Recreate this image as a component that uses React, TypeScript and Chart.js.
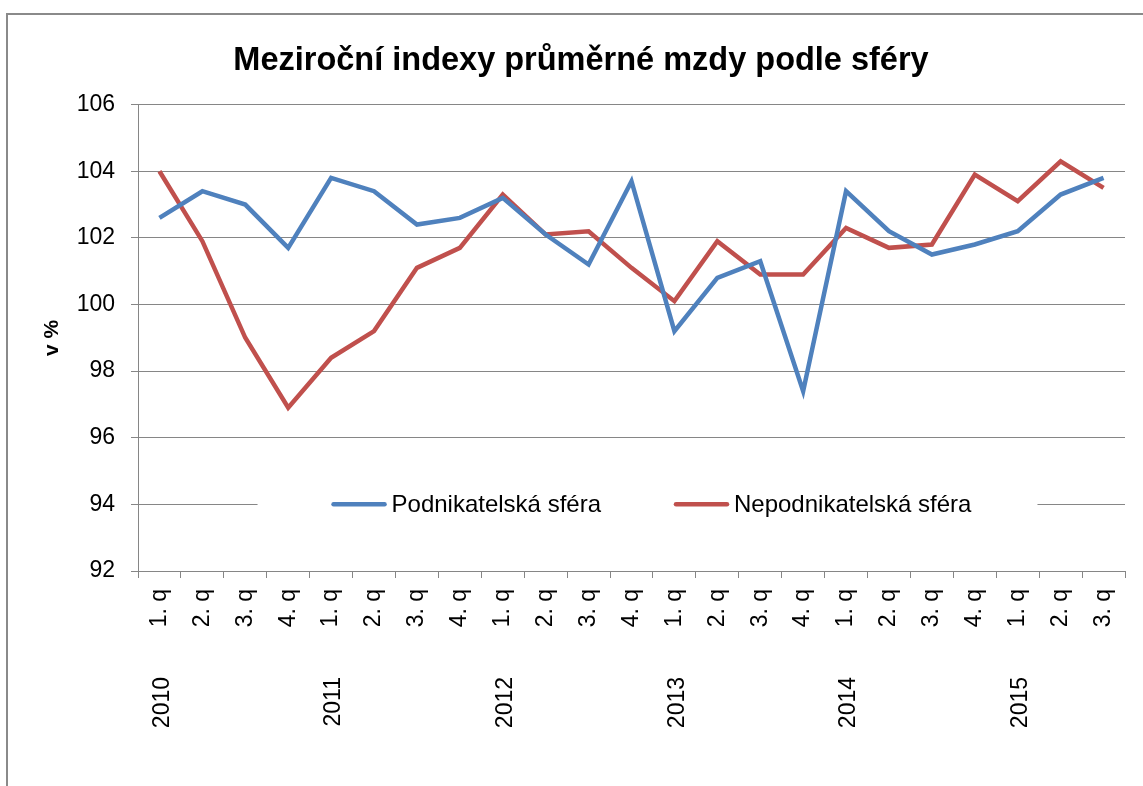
import React, { useEffect, useRef } from 'react';
import { Chart, registerables } from 'chart.js';

Chart.register(...registerables);

const titleText = 'Meziroční indexy průměrné mzdy podle sféry';
const yAxisTitle = 'v %';
const quarterLabels = [
  '1. q', '2. q', '3. q', '4. q',
  '1. q', '2. q', '3. q', '4. q',
  '1. q', '2. q', '3. q', '4. q',
  '1. q', '2. q', '3. q', '4. q',
  '1. q', '2. q', '3. q', '4. q',
  '1. q', '2. q', '3. q',
];
const yearLabels = ['2010', '2011', '2012', '2013', '2014', '2015'];
const yearStartIndex = [0, 4, 8, 12, 16, 20];
const seriesNames = ['Podnikatelská sféra', 'Nepodnikatelská sféra'];
const podnikatelska = [
  102.6, 103.4, 103.0, 101.7, 103.8, 103.4, 102.4, 102.6, 103.2, 102.1, 101.2, 103.7,
  99.2, 100.8, 101.3, 97.4, 103.4, 102.2, 101.5, 101.8, 102.2, 103.3, 103.8,
];
const nepodnikatelska = [
  104.0, 101.9, 99.0, 96.9, 98.4, 99.2, 101.1, 101.7, 103.3, 102.1, 102.2, 101.1,
  100.1, 101.9, 100.9, 100.9, 102.3, 101.7, 101.8, 103.9, 103.1, 104.3, 103.5,
];
const yMin = 92;
const yMax = 106;
const yStep = 2;
const legendValue = 94;

const FONT = "'Liberation Sans', Arial, sans-serif";
const BLUE = '#4F81BD';
const RED = '#C0504D';
const GRID = '#868686';

const framePlugin = {
  id: 'frame',
  beforeDraw(chart: any) {
    const { ctx, width, height } = chart;
    ctx.save();
    ctx.fillStyle = '#ffffff';
    ctx.fillRect(0, 0, width, height);
    ctx.strokeStyle = '#8a8a8a';
    ctx.lineWidth = 2;
    ctx.beginPath();
    ctx.moveTo(7, height);
    ctx.lineTo(7, 14);
    ctx.lineTo(width, 14);
    ctx.stroke();
    ctx.restore();
  },
};

const yearPlugin = {
  id: 'years',
  afterDraw(chart: any) {
    const { ctx } = chart;
    const xs = chart.scales.x;
    ctx.save();
    ctx.fillStyle = '#000';
    ctx.font = `23px ${FONT}`;
    ctx.textAlign = 'right';
    ctx.textBaseline = 'middle';
    yearLabels.forEach((y, i) => {
      const x = xs.getPixelForValue(yearStartIndex[i]);
      ctx.save();
      ctx.translate(x + 3, 677);
      ctx.rotate(-Math.PI / 2);
      ctx.fillText(y, 0, 0);
      ctx.restore();
    });
    ctx.restore();
  },
};

const legendPlugin = {
  id: 'insideLegend',
  afterDraw(chart: any) {
    const { ctx, chartArea } = chart;
    const ys = chart.scales.y;
    const cy = ys.getPixelForValue(legendValue);
    ctx.save();
    ctx.font = `24px ${FONT}`;
    const sample = 55;
    const sGap = 5;
    const itemGap = 73;
    const widths = chart.data.datasets.map((d: any) => ctx.measureText(d.label).width);
    let total = 0;
    widths.forEach((w: number, i: number) => {
      total += sample + sGap + w + (i < widths.length - 1 ? itemGap : 0);
    });
    const center = (chartArea.left + chartArea.right) / 2 + 20;
    let x = center - total / 2;
    ctx.fillStyle = '#ffffff';
    ctx.fillRect(x - 74, cy - 20, total + 140, 40);
    chart.data.datasets.forEach((d: any, i: number) => {
      ctx.strokeStyle = d.borderColor;
      ctx.lineWidth = 4.5;
      ctx.lineCap = 'round';
      ctx.beginPath();
      ctx.moveTo(x + 2, cy);
      ctx.lineTo(x + sample - 2, cy);
      ctx.stroke();
      ctx.fillStyle = '#000';
      ctx.textAlign = 'left';
      ctx.textBaseline = 'middle';
      ctx.fillText(d.label, x + sample + sGap, cy + 1);
      x += sample + sGap + widths[i] + itemGap;
    });
    ctx.restore();
  },
};

export default function App() {
  const ref = useRef<HTMLCanvasElement>(null);
  useEffect(() => {
    document.body.style.margin = '0';
    const canvas = ref.current;
    if (!canvas) return;
    Chart.defaults.font.family = FONT;
    Chart.defaults.color = '#000';
    const chart = new Chart(canvas, {
      type: 'line',
      data: {
        labels: quarterLabels,
        datasets: [
          {
            label: seriesNames[0],
            data: podnikatelska,
            borderColor: BLUE,
            backgroundColor: BLUE,
            borderWidth: 4.5,
            pointRadius: 0,
            tension: 0,
          },
          {
            label: seriesNames[1],
            data: nepodnikatelska,
            borderColor: RED,
            backgroundColor: RED,
            borderWidth: 4.5,
            pointRadius: 0,
            tension: 0,
          },
        ],
      },
      options: {
        responsive: false,
        animation: false,
        layout: { padding: { left: 37, right: 18, top: 14, bottom: 0 } },
        plugins: {
          legend: { display: false },
          tooltip: { enabled: false },
          title: {
            display: true,
            text: titleText,
            color: '#000',
            font: { size: 32.5, weight: 'bold', family: FONT },
            padding: { top: 28, bottom: 23.6 },
          },
        },
        scales: {
          x: {
            type: 'category',
            offset: true,
            grid: {
              display: true,
              drawOnChartArea: false,
              drawTicks: true,
              tickLength: 7,
              offset: true,
              color: GRID,
            },
            border: { display: true, color: GRID, width: 1 },
            ticks: {
              autoSkip: false,
              minRotation: 90,
              maxRotation: 90,
              padding: 11,
              color: '#000',
              font: { size: 23, family: FONT },
            },
            afterFit: (scale: any) => {
              scale.height = 215;
            },
          },
          y: {
            min: yMin,
            max: yMax,
            ticks: {
              stepSize: yStep,
              padding: 16,
              color: '#000',
              font: { size: 23, family: FONT },
            },
            grid: { color: GRID, tickLength: 7, lineWidth: 1 },
            border: { display: true, color: GRID, width: 1 },
            title: {
              display: true,
              text: yAxisTitle,
              color: '#000',
              font: { size: 21, weight: 'bold', family: FONT },
              padding: { top: 3, bottom: 0 },
            },
            afterFit: (scale: any) => {
              scale.width = 101;
            },
          },
        },
      },
      plugins: [framePlugin, yearPlugin, legendPlugin],
    });
    return () => chart.destroy();
  }, []);
  return (
    <div style={{ width: 1143, height: 786 }}>
      <canvas ref={ref} width={1143} height={786} style={{ display: 'block' }} />
    </div>
  );
}
